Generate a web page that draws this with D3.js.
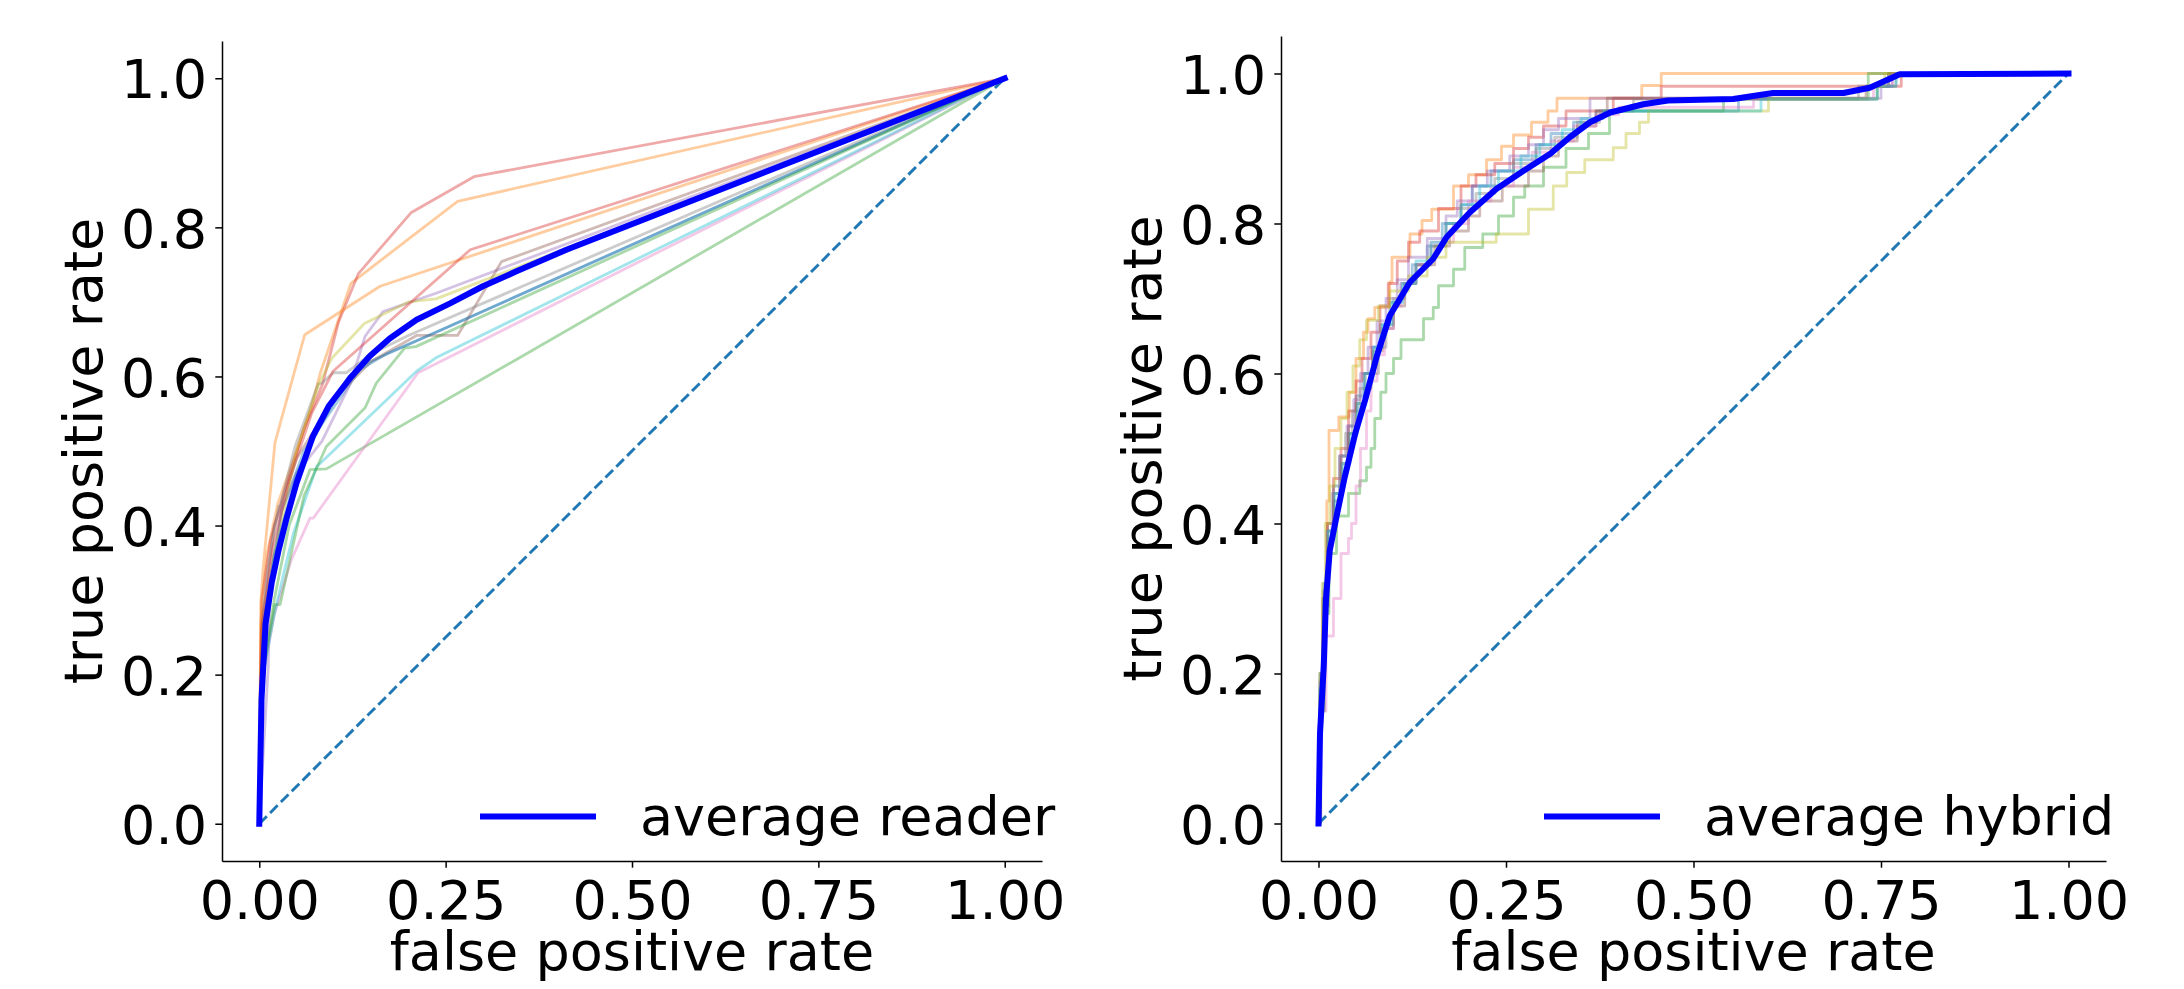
<!DOCTYPE html>
<html>
<head>
<meta charset="utf-8">
<script src="https://cdn.jsdelivr.net/npm/d3@7"></script>
<style>
  body { margin: 0; background: #fff; }
  svg { display: block; }
</style>
</head>
<body>
<div id="chart"></div>
<script>
// tick values
const xTicks = [0, 0.25, 0.5, 0.75, 1];
const yTicks = [0, 0.2, 0.4, 0.6, 0.8, 1];
const diagonal = [[0, 0], [1, 1]];

// reader ROC curves (fpr, tpr)
const reader1 = [[0,0],[0.003,0.25],[0.015,0.33],[0.03,0.42],[0.06,0.5],[0.088,0.542],[0.14,0.616],[1,1]];
const reader2 = [[0,0],[0.002,0.27],[0.01,0.36],[0.025,0.43],[0.05,0.5],[0.07,0.56],[0.082,0.605],[0.123,0.725],[0.266,0.835],[1,1]];
const reader3 = [[0,0],[0.005,0.2],[0.02,0.3],[0.04,0.4],[0.068,0.475],[0.09,0.476],[1,1]];
const reader4 = [[0,0],[0.003,0.3],[0.015,0.38],[0.035,0.45],[0.06,0.53],[0.085,0.59],[0.106,0.672],[0.133,0.738],[0.204,0.82],[0.288,0.868],[1,1]];
const reader5 = [[0,0],[0.012,0.21],[0.014,0.3],[0.03,0.42],[0.05,0.47],[0.084,0.513],[0.122,0.59],[0.142,0.654],[0.166,0.687],[0.238,0.712],[1,1]];
const reader6 = [[0,0],[0.004,0.27],[0.02,0.4],[0.05,0.49],[0.1,0.57],[0.15,0.62],[0.211,0.655],[0.266,0.655],[0.325,0.754],[1,1]];
const reader7 = [[0,0],[0.005,0.2],[0.02,0.28],[0.043,0.354],[0.068,0.41],[0.0725,0.41],[0.213,0.605],[1,1]];
const reader8 = [[0,0],[0.003,0.26],[0.012,0.345],[0.026,0.426],[0.028,0.426],[0.048,0.506],[0.079,0.59],[0.084,0.591],[0.099,0.605],[0.117,0.605],[0.15,0.63],[0.2,0.655],[1,1]];
const reader9 = [[0,0],[0.005,0.25],[0.02,0.36],[0.05,0.5],[0.08,0.59],[0.097,0.624],[0.141,0.671],[0.2,0.7],[0.237,0.704],[1,1]];
const reader10 = [[0,0],[0.005,0.2],[0.02,0.28],[0.034,0.341],[0.046,0.39],[0.077,0.479],[0.211,0.607],[0.237,0.625],[1,1]];
const reader11 = [[0,0],[0.004,0.25],[0.02,0.36],[0.05,0.47],[0.08,0.53],[0.12,0.6],[0.17,0.63],[0.25,0.665],[1,1]];
const reader12 = [[0,0],[0.002,0.296],[0.005,0.341],[0.021,0.511],[0.032,0.551],[0.061,0.656],[0.162,0.721],[1,1]];
const reader13 = [[0,0],[0.004,0.2],[0.021,0.294],[0.028,0.294],[0.039,0.345],[0.06,0.44],[0.09,0.506],[0.142,0.558],[0.157,0.591],[0.195,0.638],[0.21,0.64],[1,1]];
const reader14 = [[0,0],[0.003,0.26],[0.018,0.37],[0.04,0.46],[0.07,0.55],[0.099,0.607],[0.283,0.77],[1,1]];
const averageReader = [[0,0],[0.003,0.167],[0.0085,0.269],[0.0166,0.323],[0.0255,0.365],[0.0367,0.41],[0.05,0.457],[0.072,0.52],[0.093,0.56],[0.122,0.598],[0.148,0.627],[0.175,0.651],[0.211,0.676],[0.256,0.698],[0.3,0.721],[0.345,0.741],[0.412,0.77],[1,1]];

// hybrid ROC curves, step corners (fpr, tpr)
const hybrid1 = [[0,0],[0.002,0.2],[0.007,0.32],[0.012,0.4],[0.02,0.45],[0.03,0.49],[0.04,0.53],[0.05,0.57],[0.06,0.6],[0.072,0.635],[0.082,0.665],[0.095,0.695],[0.11,0.72],[0.125,0.745],[0.145,0.77],[0.165,0.8],[0.19,0.825],[0.205,0.85],[0.23,0.87],[0.26,0.885],[0.29,0.905],[0.31,0.92],[0.34,0.935],[0.37,0.95],[0.56,0.966],[0.745,0.983],[0.76,1],[1,1]];
const hybrid2 = [[0,0],[0.002,0.15],[0.006,0.3],[0.011,0.43],[0.014,0.524],[0.027,0.542],[0.041,0.575],[0.05,0.62],[0.06,0.655],[0.066,0.673],[0.075,0.688],[0.095,0.722],[0.098,0.755],[0.122,0.786],[0.138,0.804],[0.151,0.819],[0.18,0.85],[0.2,0.865],[0.224,0.885],[0.244,0.903],[0.26,0.918],[0.284,0.935],[0.306,0.95],[0.318,0.967],[0.431,0.984],[0.457,1],[1,1]];
const hybrid3 = [[0,0],[0.003,0.15],[0.008,0.28],[0.014,0.36],[0.024,0.41],[0.04,0.44],[0.055,0.457],[0.064,0.475],[0.07,0.5],[0.075,0.54],[0.083,0.575],[0.09,0.6],[0.1,0.62],[0.11,0.645],[0.14,0.673],[0.153,0.688],[0.16,0.717],[0.18,0.739],[0.195,0.768],[0.219,0.786],[0.24,0.81],[0.26,0.835],[0.275,0.85],[0.3,0.875],[0.33,0.9],[0.36,0.92],[0.388,0.95],[0.54,0.966],[0.733,1],[1,1]];
const hybrid4 = [[0,0],[0.002,0.18],[0.006,0.3],[0.012,0.4],[0.02,0.46],[0.03,0.5],[0.04,0.55],[0.05,0.59],[0.058,0.62],[0.07,0.655],[0.082,0.69],[0.093,0.72],[0.105,0.75],[0.12,0.775],[0.135,0.79],[0.16,0.82],[0.19,0.85],[0.21,0.865],[0.235,0.88],[0.26,0.9],[0.28,0.915],[0.3,0.93],[0.33,0.95],[0.393,0.967],[0.457,0.983],[0.777,1],[1,1]];
const hybrid5 = [[0,0],[0.002,0.19],[0.006,0.3],[0.011,0.39],[0.018,0.44],[0.028,0.49],[0.038,0.53],[0.047,0.565],[0.056,0.6],[0.066,0.635],[0.078,0.67],[0.09,0.7],[0.105,0.725],[0.12,0.755],[0.145,0.78],[0.17,0.81],[0.185,0.83],[0.205,0.85],[0.225,0.87],[0.255,0.89],[0.28,0.905],[0.3,0.925],[0.32,0.94],[0.362,0.967],[0.75,0.983],[0.765,1],[1,1]];
const hybrid6 = [[0,0],[0.002,0.17],[0.007,0.29],[0.013,0.38],[0.02,0.43],[0.03,0.48],[0.04,0.52],[0.05,0.56],[0.062,0.6],[0.072,0.63],[0.085,0.66],[0.1,0.69],[0.115,0.72],[0.13,0.745],[0.155,0.77],[0.175,0.79],[0.2,0.81],[0.215,0.83],[0.245,0.85],[0.28,0.87],[0.3,0.89],[0.32,0.91],[0.345,0.93],[0.37,0.95],[0.385,0.967],[0.73,0.983],[0.76,1],[1,1]];
const hybrid7 = [[0,0],[0.003,0.15],[0.01,0.25],[0.02,0.3],[0.03,0.36],[0.04,0.38],[0.044,0.4],[0.05,0.45],[0.056,0.5],[0.064,0.55],[0.07,0.59],[0.078,0.625],[0.088,0.66],[0.1,0.69],[0.11,0.72],[0.13,0.745],[0.15,0.775],[0.18,0.8],[0.2,0.83],[0.23,0.85],[0.26,0.875],[0.285,0.895],[0.31,0.91],[0.34,0.93],[0.37,0.945],[0.4,0.955],[0.58,0.966],[0.74,0.983],[0.765,1],[1,1]];
const hybrid8 = [[0,0],[0.002,0.2],[0.006,0.31],[0.012,0.39],[0.02,0.44],[0.028,0.49],[0.036,0.52],[0.045,0.55],[0.055,0.58],[0.07,0.6],[0.08,0.635],[0.09,0.665],[0.1,0.7],[0.115,0.72],[0.13,0.745],[0.15,0.77],[0.17,0.8],[0.19,0.82],[0.21,0.84],[0.235,0.86],[0.26,0.88],[0.29,0.9],[0.315,0.915],[0.345,0.935],[0.375,0.95],[0.42,0.966],[0.72,0.983],[0.77,1],[1,1]];
const hybrid9 = [[0,0],[0.002,0.2],[0.005,0.32],[0.009,0.4],[0.015,0.45],[0.022,0.5],[0.03,0.54],[0.038,0.575],[0.046,0.61],[0.055,0.645],[0.064,0.671],[0.08,0.69],[0.095,0.71],[0.12,0.73],[0.145,0.755],[0.17,0.775],[0.237,0.786],[0.28,0.819],[0.313,0.85],[0.331,0.868],[0.355,0.885],[0.393,0.901],[0.41,0.92],[0.428,0.935],[0.44,0.95],[0.6,0.966],[0.745,0.983],[0.755,1],[1,1]];
const hybrid10 = [[0,0],[0.002,0.18],[0.007,0.3],[0.013,0.39],[0.022,0.44],[0.032,0.48],[0.042,0.52],[0.052,0.56],[0.062,0.6],[0.074,0.635],[0.085,0.665],[0.098,0.695],[0.112,0.72],[0.13,0.75],[0.15,0.775],[0.17,0.8],[0.19,0.825],[0.215,0.85],[0.24,0.87],[0.27,0.89],[0.295,0.905],[0.325,0.925],[0.35,0.94],[0.38,0.95],[0.59,0.966],[0.745,0.983],[0.77,1],[1,1]];
const averageHybrid = [[0,0],[0.002,0.12],[0.007,0.21],[0.01,0.3],[0.015,0.364],[0.024,0.409],[0.035,0.462],[0.049,0.52],[0.062,0.564],[0.078,0.624],[0.095,0.677],[0.122,0.722],[0.153,0.753],[0.171,0.782],[0.202,0.815],[0.237,0.846],[0.273,0.87],[0.309,0.893],[0.335,0.915],[0.362,0.935],[0.389,0.948],[0.433,0.959],[0.466,0.964],[0.553,0.966],[0.606,0.974],[0.7,0.974],[0.735,0.981],[0.775,0.999],[1,1]];

const readers = [reader1, reader2, reader3, reader4, reader5, reader6, reader7,
                 reader8, reader9, reader10, reader11, reader12, reader13, reader14];
const hybrids = [hybrid1, hybrid2, hybrid3, hybrid4, hybrid5, hybrid6, hybrid7,
                 hybrid8, hybrid9, hybrid10];

const width = 2184, height = 989;
const fontSize = 54;

const svg = d3.select("#chart").append("svg")
    .attr("width", width)
    .attr("height", height)
    .style("font-family", "'DejaVu Sans'");

function drawPanel(p) {
    const x = d3.scaleLinear().domain([-0.05, 1.05]).range([p.left, p.right]);
    const y = d3.scaleLinear().domain([-0.05, 1.05]).range([p.bottom, p.top]);
    const g = svg.append("g");

    const line = d3.line()
        .x(d => x(d[0]))
        .y(d => y(d[1]))
        .curve(p.step ? d3.curveStepAfter : d3.curveLinear);

    p.curves.forEach((c, i) => {
        g.append("path")
            .datum(c)
            .attr("d", line)
            .attr("fill", "none")
            .attr("stroke", d3.schemeCategory10[i % 10])
            .attr("stroke-opacity", 0.4)
            .attr("stroke-width", 2.8)
            .attr("stroke-linejoin", "round");
    });

    // chance line
    g.append("path")
        .datum(diagonal)
        .attr("d", d3.line().x(d => x(d[0])).y(d => y(d[1])))
        .attr("fill", "none")
        .attr("stroke", "#1f77b4")
        .attr("stroke-width", 2.9)
        .attr("stroke-dasharray", "10.7,4.6");

    // average curve
    g.append("path")
        .datum(p.average)
        .attr("d", d3.line().x(d => x(d[0])).y(d => y(d[1])))
        .attr("fill", "none")
        .attr("stroke", "#0000ff")
        .attr("stroke-width", 6)
        .attr("stroke-linejoin", "round")
        .attr("stroke-linecap", "square");

    // axes
    const xAxis = g.append("g")
        .attr("transform", `translate(0,${p.bottom})`)
        .call(d3.axisBottom(x).tickValues(xTicks).tickFormat(d3.format(".2f"))
            .tickSize(6.7).tickSizeOuter(0).tickPadding(13));
    const yAxis = g.append("g")
        .attr("transform", `translate(${p.left},0)`)
        .call(d3.axisLeft(y).tickValues(yTicks).tickFormat(d3.format(".1f"))
            .tickSize(6.7).tickSizeOuter(0).tickPadding(8.3));
    yAxis.selectAll(".tick text").attr("dy", "0.365em");

    [xAxis, yAxis].forEach(a => {
        a.attr("font-family", "'DejaVu Sans'").attr("font-size", fontSize);
        a.selectAll("text").attr("fill", "#000");
        a.select(".domain").attr("stroke", "#000").attr("stroke-width", 1.5);
        a.selectAll(".tick line").attr("stroke", "#000").attr("stroke-width", 1.5);
    });

    // axis labels
    g.append("text")
        .attr("x", (p.left + p.right) / 2)
        .attr("y", 970)
        .attr("text-anchor", "middle")
        .style("font-size", fontSize + "px")
        .text("false positive rate");

    g.append("text")
        .attr("transform", `translate(${p.left - 120},${(p.top + p.bottom) / 2}) rotate(-90)`)
        .attr("text-anchor", "middle")
        .style("font-size", fontSize + "px")
        .text("true positive rate");

    // legend
    g.append("line")
        .attr("x1", p.right - 562).attr("x2", p.right - 446)
        .attr("y1", 816.5).attr("y2", 816.5)
        .attr("stroke", "#0000ff")
        .attr("stroke-width", 6);

    g.append("text")
        .attr("x", p.right - 402)
        .attr("y", 835)
        .style("font-size", fontSize + "px")
        .text(p.label);
}

drawPanel({ left: 222, right: 1042, top: 41, bottom: 861,
            curves: readers, average: averageReader, step: false, label: "average reader" });
drawPanel({ left: 1281, right: 2106, top: 36, bottom: 861,
            curves: hybrids, average: averageHybrid, step: true, label: "average hybrid" });
</script>
</body>
</html>
